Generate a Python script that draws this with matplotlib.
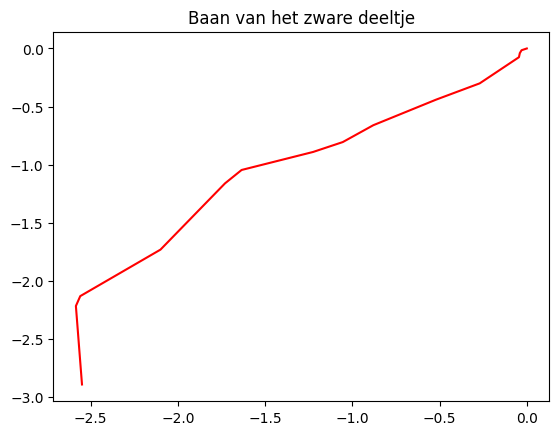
import matplotlib
matplotlib.use("Agg")
import matplotlib.pyplot as plt

# trajectory of the heavy particle
x = [0.0, -0.03, -0.04, -0.045, -0.27, -0.52, -0.88, -1.055, -1.225,
     -1.635, -1.73, -2.10, -2.56, -2.585, -2.55]
y = [0.0, -0.015, -0.04, -0.075, -0.30, -0.44, -0.66, -0.805, -0.89,
     -1.045, -1.16, -1.73, -2.13, -2.215, -2.89]

fig, ax = plt.subplots(figsize=(6.4, 4.8), dpi=100)
ax.plot(x, y, color='red')
ax.set_title('Baan van het zware deeltje')

fig.savefig('out.png', dpi=100, bbox_inches='tight')
